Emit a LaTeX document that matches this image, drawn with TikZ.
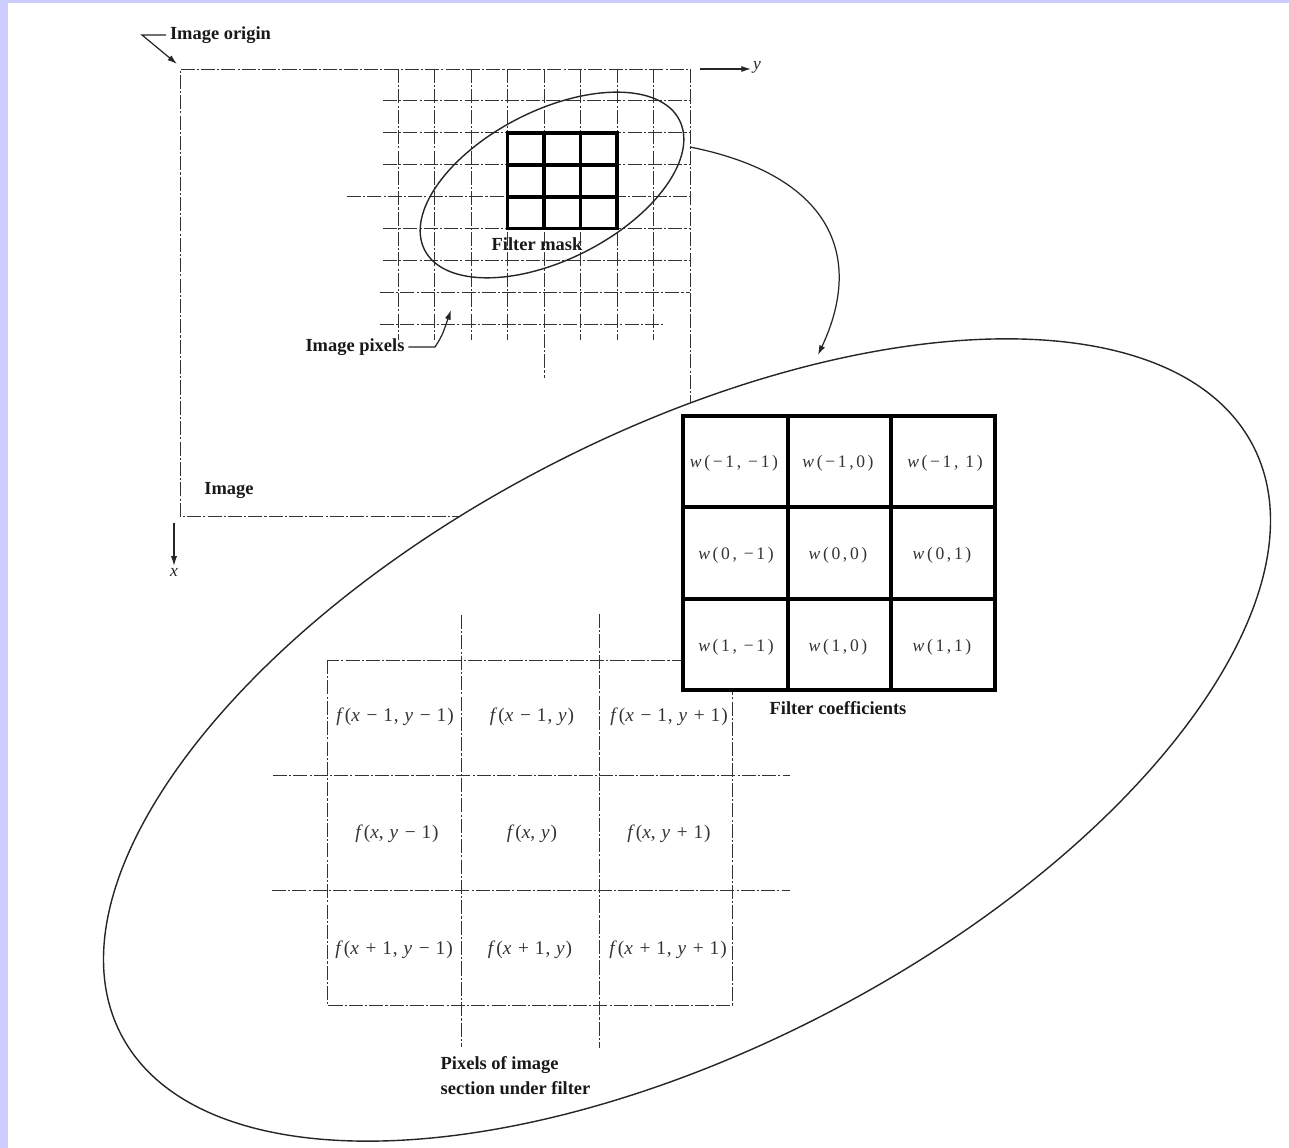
\documentclass[tikz,border=0pt]{standalone}
\usepackage{fontspec}
\setmainfont{Liberation Serif}
\newfontfamily\wfont[LetterSpace=15]{Liberation Serif}
\newfontfamily\ffont[LetterSpace=5]{Liberation Serif}
\usetikzlibrary{arrows.meta}
\definecolor{lav}{HTML}{CCCCFF}
\newcommand{\iv}[1]{\textit{#1}}
\begin{document}
\begin{tikzpicture}[x=0.02cm,y=-0.02cm,
  lbl/.style={font=\fontsize{10.5}{14.2}\selectfont\bfseries, inner sep=2pt, text=black!90},
  gl/.style={line width=0.5pt, black!80, dash pattern=on 8pt off 1.2pt on 1.2pt off 1.2pt},
  maskline/.style={line width=2.2pt, draw=black},
  coefline/.style={line width=2pt, draw=black},
  arr/.style={line width=0.7pt, black!85, -{Latex[length=5.5pt,width=3.5pt]}},
  wcell/.style={font=\wfont\fontsize{10}{12}\selectfont, text=black!80, inner sep=1pt},
  fcell/.style={font=\ffont\fontsize{11}{13}\selectfont, text=black!80, inner sep=1pt},
  axlbl/.style={font=\fontsize{10}{12}\selectfont, inner sep=1pt, text=black!85}]
% background
\fill[lav] (0,0) rectangle (1289,1148);
\fill[white] (7.5,3) rectangle (1289,1148);
\useasboundingbox (0,0) rectangle (1289,1148);

% image rectangle
\draw[gl] (690,450) -- (690,69) -- (180,69) -- (180,516) -- (690,516);
% image pixel grid
\foreach \xx/\yb in {398/340, 434.5/340, 471/340, 507.5/340, 544/378, 580.5/340, 617/340, 653.5/340}
  \draw[gl] (\xx,69) -- (\xx,\yb);
\foreach \yy/\xa/\xb in {100.9/383/690, 132.8/383/690, 164.7/383/690, 196.6/347/690, 228.5/383/690, 260.4/383/690, 292.3/380/690, 324.2/380/665}
  \draw[gl] (\xa,\yy) -- (\xb,\yy);
% filter mask
\draw[maskline] (507.5,132.8) rectangle (617,228.5);
\draw[maskline] (544,132.8) -- (544,228.5);
\draw[maskline] (580.5,132.8) -- (580.5,228.5);
\draw[maskline] (507.5,164.7) -- (617,164.7);
\draw[maskline] (507.5,196.6) -- (617,196.6);
% small ellipse
\draw[line width=0.8pt, black!85, rotate around={27:(552,185)}] (552,185) ellipse [x radius=143, y radius=74.5];

% labels top
\node[lbl] (origin) at (220.5,35) {Image origin};
\coordinate (corner) at (177,64);
\draw[arr] (origin.west) -- (142,35) -- (corner);
\node[lbl] (pixels) at (355,347) {Image pixels};
\coordinate (pixtip) at (451,310);
\draw[arr] (pixels.east) -- (435,347) .. controls (442,336) .. (pixtip);
\node[lbl] (image) at (229,490) {Image};
\node[lbl] (fmask) at (537,244) {Filter mask};
% axes
\coordinate (ystart) at (700,69);
\node[axlbl] (ylab) at (757,67) {\iv{y}};
\draw[arr] (ystart) -- (ystart -| ylab.west);
\coordinate (xstart) at (174,523);
\node[axlbl] (xlab) at (174,572) {\iv{x}};
\draw[arr] (xstart) -- (xlab.north);

% big ellipse
\filldraw[fill=white, draw=black!85, line width=0.8pt, rotate around={27.5:(687,740)}] (687,740) ellipse [x radius=638, y radius=307];

% image section grid
\draw[gl] (327,660) rectangle (732,1005);
\draw[gl] (461,615) -- (461,1047);
\draw[gl] (599,614) -- (599,1048);
\draw[gl] (273,775) -- (790,775);
\draw[gl] (272,890) -- (790,890);
\node[fcell] (f11) at (395,717) {\iv{f}(\iv{x} − 1, \iv{y} − 1)};
\node[fcell] (f12) at (532,717) {\iv{f}(\iv{x} − 1, \iv{y})};
\node[fcell] (f13) at (669,717) {\iv{f}(\iv{x} − 1, \iv{y} + 1)};
\node[fcell] (f21) at (397,834) {\iv{f}(\iv{x}, \iv{y} − 1)};
\node[fcell] (f22) at (532,834) {\iv{f}(\iv{x}, \iv{y})};
\node[fcell] (f23) at (669,834) {\iv{f}(\iv{x}, \iv{y} + 1)};
\node[fcell] (f31) at (394,950) {\iv{f}(\iv{x} + 1, \iv{y} − 1)};
\node[fcell] (f32) at (530,950) {\iv{f}(\iv{x} + 1, \iv{y})};
\node[fcell] (f33) at (668,950) {\iv{f}(\iv{x} + 1, \iv{y} + 1)};
\node[lbl, align=left] (section) at (515.5,1075.5) {Pixels of image\\section under filter};

% filter coefficients
\filldraw[coefline, fill=white] (683,416) rectangle (995,690);
\draw[coefline] (788,416) -- (788,690);
\draw[coefline] (891,416) -- (891,690);
\draw[coefline] (683,507) -- (995,507);
\draw[coefline] (683,599) -- (995,599);
\node[wcell] (w11) at (734,463) {\iv{w}(−1, −1)};
\node[wcell] (w12) at (838,463) {\iv{w}(−1,0)};
\node[wcell] (w13) at (945,463) {\iv{w}(−1, 1)};
\node[wcell] (w21) at (736,555) {\iv{w}(0, −1)};
\node[wcell] (w22) at (838,555) {\iv{w}(0,0)};
\node[wcell] (w23) at (942,555) {\iv{w}(0,1)};
\node[wcell] (w31) at (736,647) {\iv{w}(1, −1)};
\node[wcell] (w32) at (838,647) {\iv{w}(1,0)};
\node[wcell] (w33) at (942,647) {\iv{w}(1,1)};
\node[lbl] (fcoef) at (838,708) {Filter coefficients};

% connector
\coordinate (cstart) at (690,147);
\coordinate (cend) at (818,355);
\draw[arr] (cstart) .. controls (830,175) and (865,255) .. (cend);
\end{tikzpicture}
\end{document}
